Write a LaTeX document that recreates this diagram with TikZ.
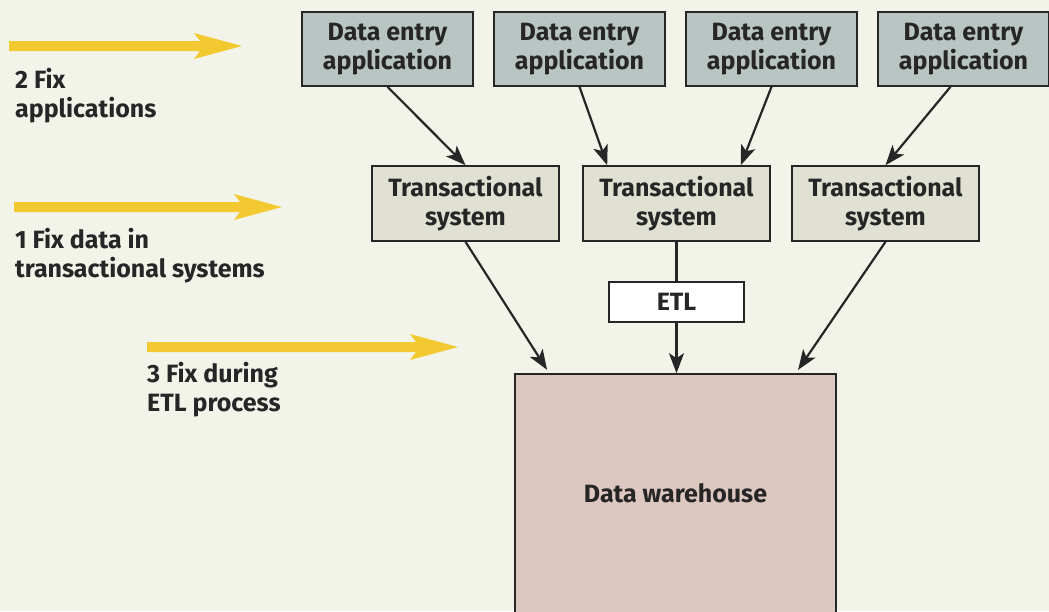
\documentclass[tikz,border=0pt]{standalone}
\usepackage{fontspec}
\setmainfont{Fira Sans}
\usetikzlibrary{arrows.meta}
\definecolor{bgcol}{HTML}{F3F4E9}
\definecolor{appcol}{HTML}{B8C5C3}
\definecolor{tscol}{HTML}{E0E0D3}
\definecolor{dwcol}{HTML}{DCC8C0}
\definecolor{fixcol}{HTML}{F3C931}
\definecolor{inkcol}{HTML}{262626}
\tikzset{
  x=1pt, y=-1pt,
  every node/.style={font=\fontsize{25}{29}\selectfont\bfseries, text=inkcol},
  boxbase/.style={draw=inkcol, line width=1.6pt, align=center, inner sep=0pt},
  appbox/.style={boxbase, fill=appcol, minimum width=171pt, minimum height=74pt},
  tsbox/.style={boxbase, fill=tscol, minimum width=187pt, minimum height=75pt},
  etlbox/.style={boxbase, fill=white, minimum width=135pt, minimum height=40pt},
  dwbox/.style={boxbase, fill=dwcol, minimum width=321pt, minimum height=250pt},
  flow/.style={draw=inkcol, line width=2.2pt, -{Stealth[length=20pt, width=15pt, inset=5pt]}},
  gap/.style={shorten >=4pt},
  plain/.style={draw=inkcol, line width=2.2pt},
  fixlabel/.style={anchor=base west, inner sep=0pt, align=left},
}
% yellow "fix" arrow: start x, end x, centre y
\newcommand{\fixarrow}[3]{%
  \fill[fixcol] (#1,#3-5) -- (#2-42,#3-5) -- (#2-48,#3-13) -- (#2,#3)
    -- (#2-48,#3+13) -- (#2-42,#3+5) -- (#1,#3+5) -- cycle;}
\begin{document}
\begin{tikzpicture}
\fill[bgcol] (0,0) rectangle (1049,611);
\useasboundingbox (0,0) rectangle (1049,611);

% source applications
\node[appbox] (app1) at (387.5,49) {Data entry\\application};
\node[appbox] (app2) at (579.5,49) {Data entry\\application};
\node[appbox] (app3) at (771.5,49) {Data entry\\application};
\node[appbox] (app4) at (963.5,49) {Data entry\\application};

% transactional systems
\node[tsbox] (ts1) at (465.5,203.5) {Transactional\\system};
\node[tsbox] (ts2) at (676.5,203.5) {Transactional\\system};
\node[tsbox] (ts3) at (885.5,203.5) {Transactional\\system};

% ETL and warehouse
\node[etlbox] (etl) at (676.5,302) {ETL};
\begin{scope}
\clip (0,0) rectangle (1049,611);
\node[dwbox] (dw) at (675.5,499) {};
\end{scope}
\node (dwlabel) at (675.5,493) {Data warehouse};

% applications feed the transactional systems
\draw[flow] (app1.south) -- (ts1.north);
\draw[flow] (app2.south) -- ([xshift=25pt]ts2.north west);
\draw[flow] (app3.south) -- ([xshift=-30pt]ts2.north east);
\draw[flow] ([xshift=-13pt]app4.south) -- (ts3.north);

% loading the warehouse
\draw[flow, gap] (ts1.south) -- ([xshift=35pt]dw.north west);
\draw[plain] (ts2.south) -- (etl.north);
\draw[flow] (etl.south) -- (dw.north -| etl.south);
\draw[flow, gap] (ts3.south) -- ([xshift=-41pt]dw.north east);

% where data can be fixed
\fixarrow{9}{242}{46}
\fixarrow{14}{282}{207}
\fixarrow{147}{458}{347}
\node[fixlabel] (fix2) at (15,117) {2 Fix\\applications};
\node[fixlabel] (fix1) at (15,277) {1 Fix data in\\transactional systems};
\node[fixlabel] (fix3) at (147,411) {3 Fix during\\ETL process};
\end{tikzpicture}
\end{document}
